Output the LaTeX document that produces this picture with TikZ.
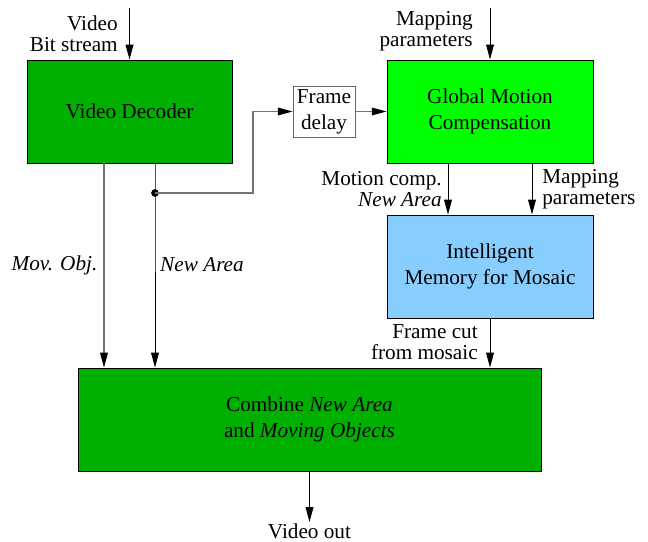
\documentclass[tikz,border=0pt]{standalone}
\usepackage{fontspec}
\setmainfont{Liberation Serif}
\usetikzlibrary{arrows.meta}

\definecolor{decgreen}{RGB}{0,176,0}
\definecolor{gmcgreen}{RGB}{0,255,0}
\definecolor{memblue}{RGB}{135,206,255}

\begin{document}
\begin{tikzpicture}
	\tikzset{block/.style={
			draw,
			line width=0.7pt,
			inner sep=0pt,
			align=center,
			minimum height=2.575cm,
			font=\fontsize{15.1}{18.4}\selectfont},
		note/.style={
			inner sep=0pt,
			font=\fontsize{15.1}{15}\selectfont},
		flow/.style={
			line width=0.7pt,
			-{Triangle[length=10.5pt,width=5.5pt]}},
		greyflow/.style={
			line width=0.75pt,
			draw=black!55,
			-{Triangle[length=10.5pt,width=5.5pt,color=black]}}
	}
	
	\useasboundingbox (0,0) rectangle (16.2,-13.55);
	
	%% BLOCKS
	\node[block, fill=decgreen, minimum width=5.125cm] (Decoder) at (3.2375,-2.7875) {Video Decoder};
	\node[block, draw=black!60, minimum width=1.55cm, minimum height=1.275cm] (Delay) at (8.1,-2.7875) {Frame\\delay};
	\node[block, fill=gmcgreen, minimum width=5.15cm] (GMC) at (12.25,-2.7875) {Global Motion\\Compensation};
	\node[block, fill=memblue, minimum width=5.15cm] (Memory) at (12.25,-6.6625) {Intelligent\\Memory for Mosaic};
	\node[block, fill=decgreen, minimum width=11.575cm] (Combine) at (7.7375,-10.4875) {Combine \textit{New Area}\\and \textit{Moving Objects}};
	
	%% INPUTS AND OUTPUT
	\coordinate (VideoIn) at ([yshift=1.3cm]Decoder.north);
	\coordinate (MapIn) at ([yshift=1.3cm]GMC.north);
	\node[note, anchor=north, inner sep=1pt] (VideoOut) at (7.7375,-13.05) {Video out};
	
	\node[note, anchor=east, align=right] (VideoLbl) at (2.95,-0.84) {Video\\Bit stream};
	\node[note, anchor=east, align=right] (MapLbl) at (11.825,-0.77) {Mapping\\parameters};
	\node[note] (MovLbl) at (1.3625,-6.625) {\textit{Mov. Obj.}};
	\node[note] (AreaLbl) at (5.05,-6.625) {\textit{New Area}};
	\node[note, anchor=east, align=right] (CompLbl) at (11.05,-4.72) {Motion comp.\\\textit{New Area}};
	\node[note, anchor=west, align=left] (ParamLbl) at (13.55,-4.72) {Mapping\\parameters};
	\node[note, anchor=east, align=right] (CutLbl) at (11.95,-8.5625) {Frame cut\\from mosaic};
	
	%% BRANCH TO FRAME DELAY
	\node[circle, fill, inner sep=0pt, minimum size=5.5pt] (Branch) at (3.875,-4.825) {};
	\coordinate (Turn) at (6.325,-4.825);
	
	\draw[flow] (VideoIn) -- (Decoder.north);
	\draw[flow] (MapIn) -- (GMC.north);
	\draw[greyflow] ([xshift=-0.6375cm]Decoder.south) -- ([xshift=-0.6375cm]Decoder.south |- Combine.north);
	\draw[flow] (Decoder.south -| Branch) -- (Branch.center) -- (Branch |- Combine.north);
	\draw[greyflow] (Branch.center) -- (Turn) |- (Delay.west);
	\draw[greyflow] (Delay) -- (GMC);
	\draw[flow] ([xshift=-1.05cm]GMC.south) -- ([xshift=-1.05cm]Memory.north);
	\draw[flow] ([xshift=1.05cm]GMC.south) -- ([xshift=1.05cm]Memory.north);
	\draw[flow] (Memory.south) -- (Memory.south |- Combine.north);
	\draw[flow] (Combine.south) -- (VideoOut.north);
	
\end{tikzpicture}
\end{document}
